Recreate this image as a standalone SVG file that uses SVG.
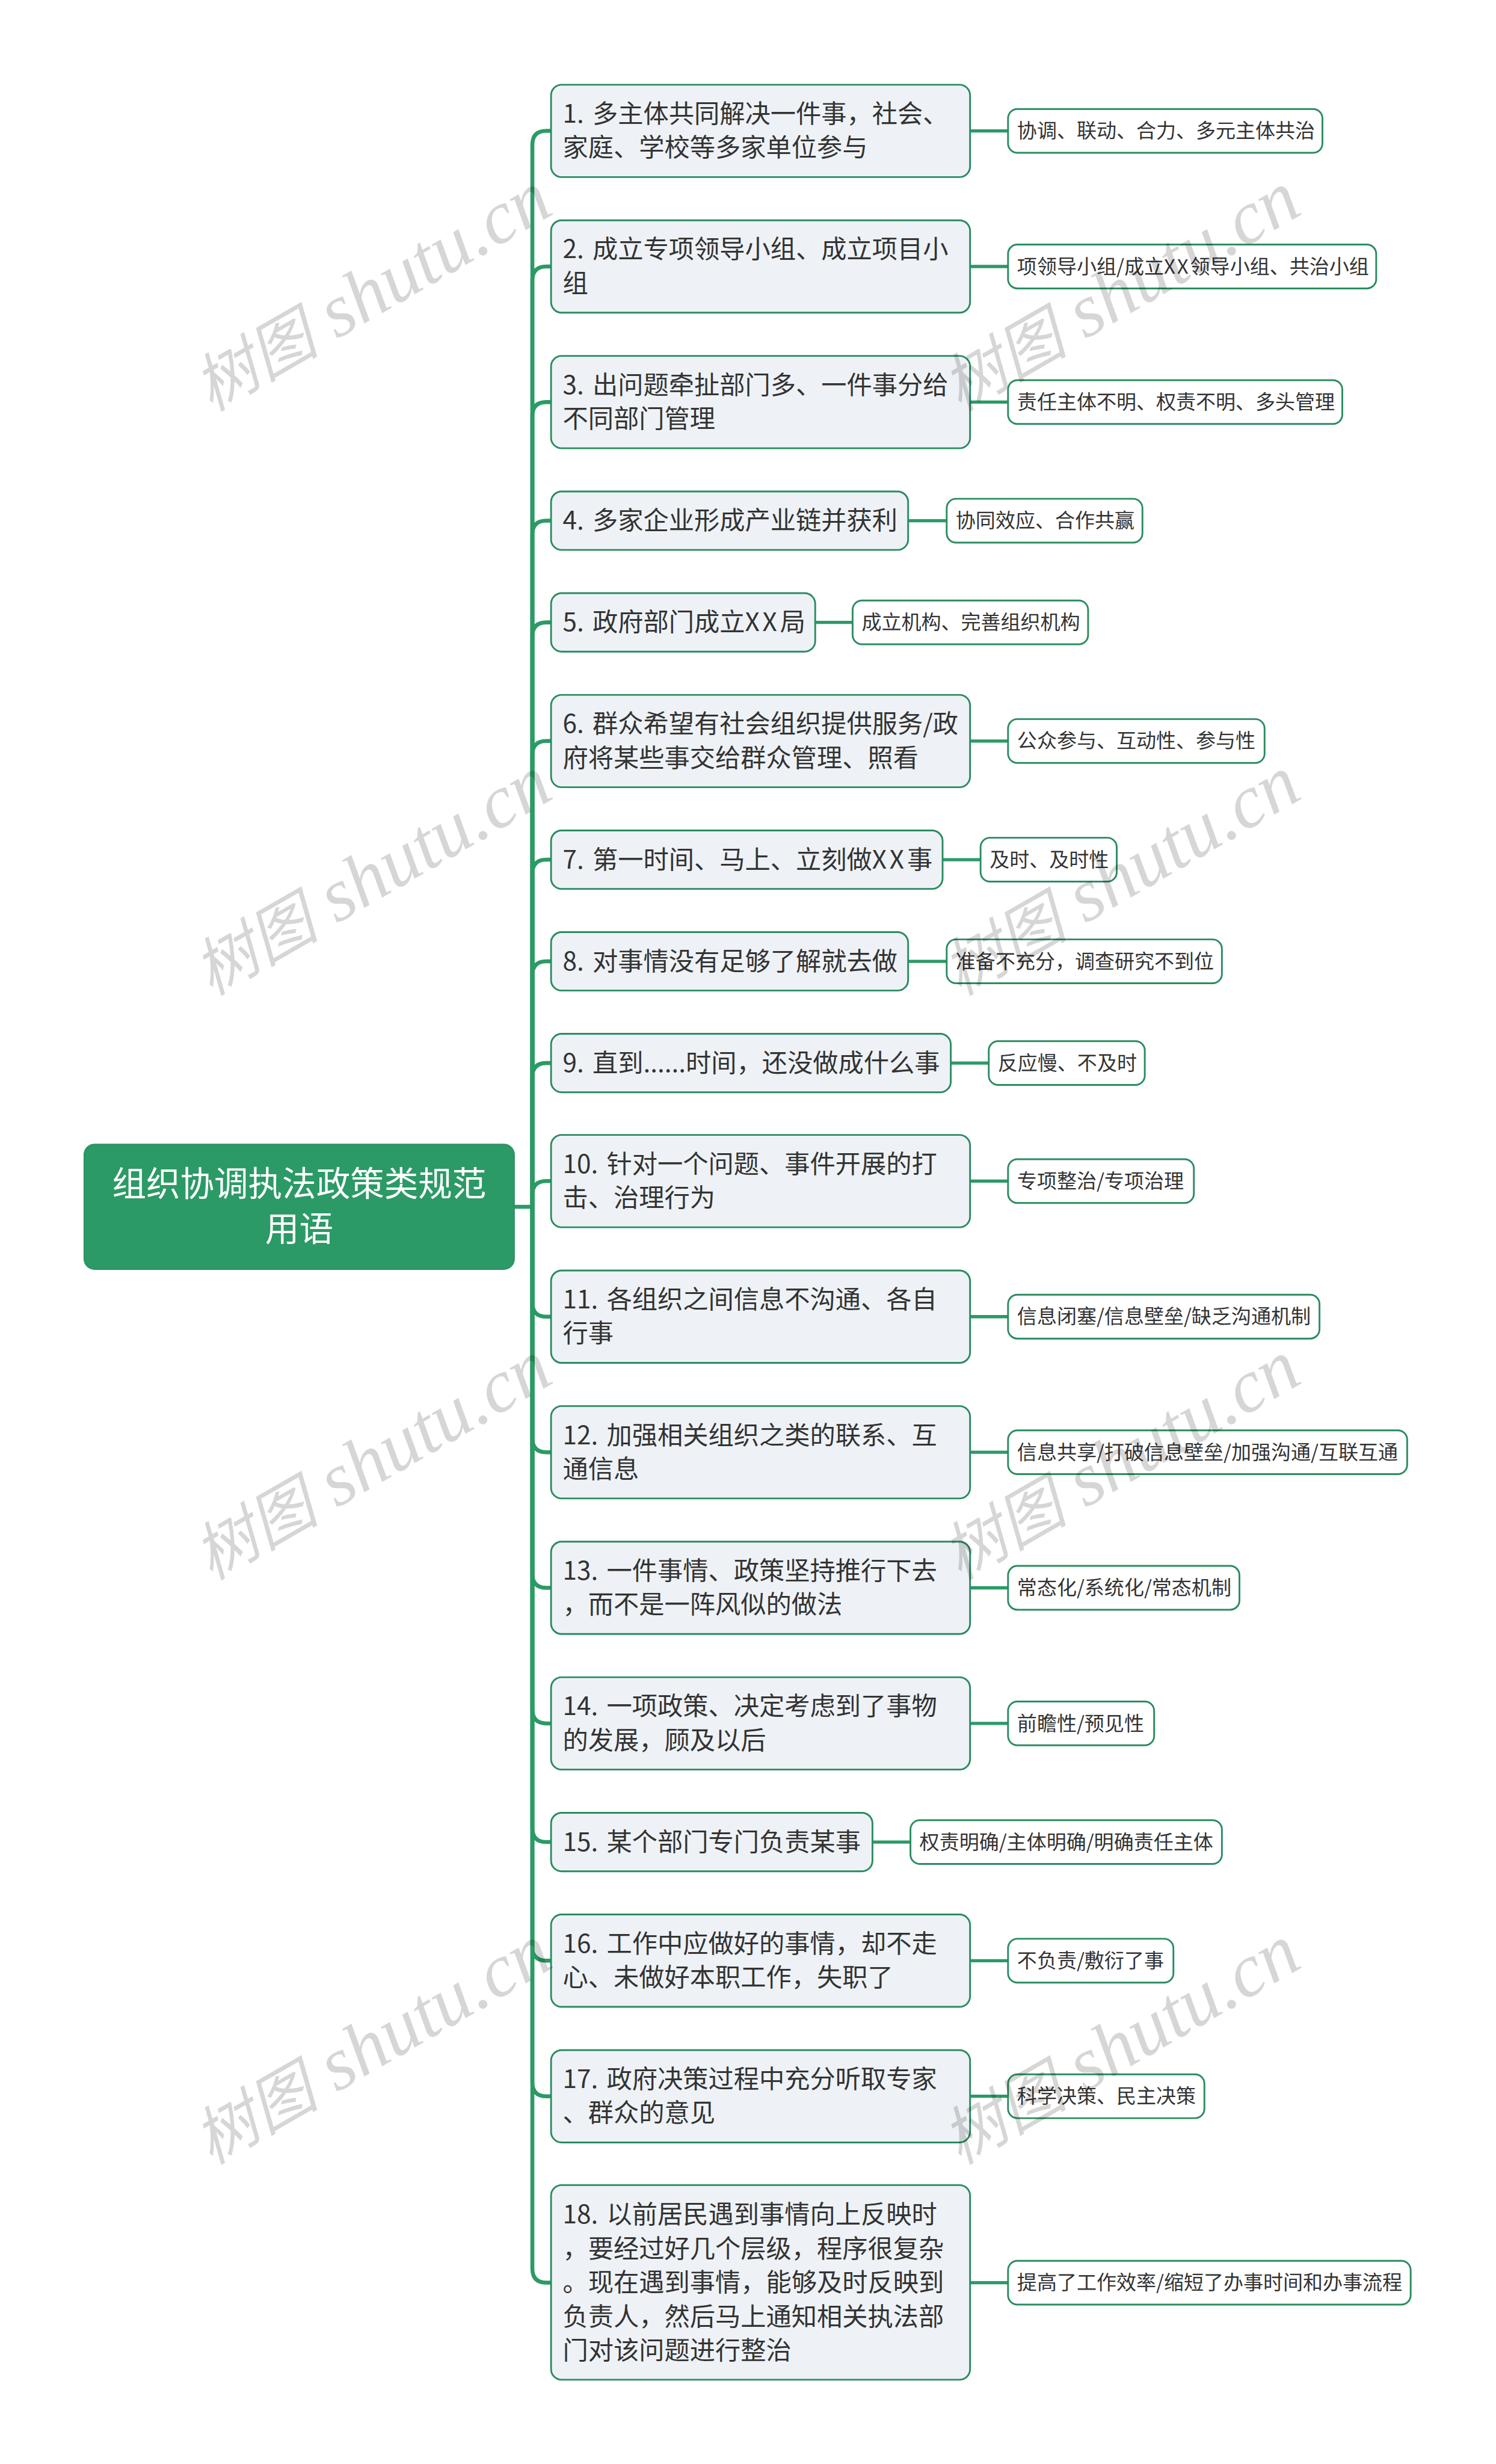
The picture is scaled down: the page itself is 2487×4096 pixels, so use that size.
<svg xmlns="http://www.w3.org/2000/svg" width="2487" height="4096" viewBox="0 0 2487 4096">
<style>
text{font-family:"Noto Sans CJK SC","Liberation Sans",sans-serif}
.c{fill:none;stroke:#2b9a66;stroke-width:6.7}
.s{fill:none;stroke:#2b9a66;stroke-width:5.5}
.n{fill:#eef2f6;stroke:#2a8c60;stroke-width:3}
.u{fill:#fff;stroke:#2a8c60;stroke-width:3}
.nt{font-size:43.5px;fill:#333;word-spacing:5px}
.ut{font-size:34px;fill:#333}
.rt{font-size:58.2px;fill:#fff;text-anchor:middle}
.w{font-family:"Liberation Serif","Noto Sans CJK SC",serif;font-style:italic;font-size:129px;fill:#000;fill-opacity:.16}
.wc{font-size:108px}
.xn{letter-spacing:5px}
.xu{letter-spacing:3px}
</style>
<defs><text id="wm" class="w"><tspan class="wc">树图</tspan> shutu.cn</text></defs>
<g transform="scale(0.97148)">
<rect width="2560" height="4217" fill="#fff"/>
<g id="connectors">
<path class="c" d="M880 2065H911"/>
<path class="c" d="M911 2065V248Q911 224 935 224H942"/>
<path class="c" d="M911 2065V480Q911 456 935 456H942"/>
<path class="c" d="M911 2065V712Q911 688 935 688H942"/>
<path class="c" d="M911 2065V915Q911 891 935 891H942"/>
<path class="c" d="M911 2065V1089Q911 1065 935 1065H942"/>
<path class="c" d="M911 2065V1292Q911 1268 935 1268H942"/>
<path class="c" d="M911 2065V1495Q911 1471 935 1471H942"/>
<path class="c" d="M911 2065V1669Q911 1645 935 1645H942"/>
<path class="c" d="M911 2065V1843Q911 1819 935 1819H942"/>
<path class="c" d="M911 2065V2045Q911 2021 935 2021H942"/>
<path class="c" d="M911 2065V2229Q911 2253 935 2253H942"/>
<path class="c" d="M911 2065V2461Q911 2485 935 2485H942"/>
<path class="c" d="M911 2065V2693Q911 2717 935 2717H942"/>
<path class="c" d="M911 2065V2925Q911 2949 935 2949H942"/>
<path class="c" d="M911 2065V3128Q911 3152 935 3152H942"/>
<path class="c" d="M911 2065V3331Q911 3355 935 3355H942"/>
<path class="c" d="M911 2065V3563Q911 3587 935 3587H942"/>
<path class="c" d="M911 2065V3882Q911 3906 935 3906H942"/>
<path class="s" d="M1661 224H1725"/>
<path class="s" d="M1661 456H1725"/>
<path class="s" d="M1661 688H1725"/>
<path class="s" d="M1555 891H1620"/>
<path class="s" d="M1396 1065H1459"/>
<path class="s" d="M1661 1268H1725"/>
<path class="s" d="M1614 1471H1678"/>
<path class="s" d="M1555 1645H1620"/>
<path class="s" d="M1628 1819H1692"/>
<path class="s" d="M1661 2021H1725"/>
<path class="s" d="M1661 2253H1725"/>
<path class="s" d="M1661 2485H1725"/>
<path class="s" d="M1661 2717H1725"/>
<path class="s" d="M1661 2949H1725"/>
<path class="s" d="M1494 3152H1558"/>
<path class="s" d="M1661 3355H1725"/>
<path class="s" d="M1661 3587H1725"/>
<path class="s" d="M1661 3906H1725"/>
</g>
<g id="root"><rect x="144" y="1958" width="736" height="214" rx="18" fill="#2c9a66" stroke="#2f8f65" stroke-width="2"/>
<text class="rt" x="512" y="2046">组织协调执法政策类规范</text><text class="rt" x="512" y="2124">用语</text></g>

<g id="n1"><rect class="n" x="943" y="145" width="717" height="158" rx="18"/><text class="nt" x="963" y="210">1. 多主体共同解决一件事，社会、</text><text class="nt" x="963" y="268">家庭、学校等多家单位参与</text></g>
<g id="s1"><rect class="u" x="1725" y="186.5" width="538" height="75" rx="16"/><text class="ut" x="1740.5" y="236">协调、联动、合力、多元主体共治</text></g>

<g id="n2"><rect class="n" x="943" y="377" width="717" height="158" rx="18"/><text class="nt" x="963" y="442">2. 成立专项领导小组、成立项目小</text><text class="nt" x="963" y="500">组</text></g>
<g id="s2"><rect class="u" x="1725" y="418.5" width="630" height="75" rx="16"/><text class="ut" x="1740.5" y="468">项领导小组/成立<tspan class="xu">XX</tspan>领导小组、共治小组</text></g>

<g id="n3"><rect class="n" x="943" y="609" width="717" height="158" rx="18"/><text class="nt" x="963" y="674">3. 出问题牵扯部门多、一件事分给</text><text class="nt" x="963" y="732">不同部门管理</text></g>
<g id="s3"><rect class="u" x="1725" y="650.5" width="572" height="75" rx="16"/><text class="ut" x="1740.5" y="700">责任主体不明、权责不明、多头管理</text></g>

<g id="n4"><rect class="n" x="943" y="841" width="611" height="100" rx="18"/><text class="nt" x="963" y="906">4. 多家企业形成产业链并获利</text></g>
<g id="s4"><rect class="u" x="1620" y="853.5" width="335" height="75" rx="16"/><text class="ut" x="1635.5" y="903">协同效应、合作共赢</text></g>

<g id="n5"><rect class="n" x="943" y="1015" width="452" height="100" rx="18"/><text class="nt" x="963" y="1080">5. 政府部门成立<tspan class="xn">XX</tspan>局</text></g>
<g id="s5"><rect class="u" x="1459" y="1027.5" width="403" height="75" rx="16"/><text class="ut" x="1474.5" y="1077">成立机构、完善组织机构</text></g>

<g id="n6"><rect class="n" x="943" y="1189" width="717" height="158" rx="18"/><text class="nt" x="963" y="1254">6. 群众希望有社会组织提供服务/政</text><text class="nt" x="963" y="1312">府将某些事交给群众管理、照看</text></g>
<g id="s6"><rect class="u" x="1725" y="1230.5" width="439" height="75" rx="16"/><text class="ut" x="1740.5" y="1280">公众参与、互动性、参与性</text></g>

<g id="n7"><rect class="n" x="943" y="1421" width="670" height="100" rx="18"/><text class="nt" x="963" y="1486">7. 第一时间、马上、立刻做<tspan class="xn">XX</tspan>事</text></g>
<g id="s7"><rect class="u" x="1678" y="1433.5" width="233" height="75" rx="16"/><text class="ut" x="1693.5" y="1483">及时、及时性</text></g>

<g id="n8"><rect class="n" x="943" y="1595" width="611" height="100" rx="18"/><text class="nt" x="963" y="1660">8. 对事情没有足够了解就去做</text></g>
<g id="s8"><rect class="u" x="1620" y="1607.5" width="471" height="75" rx="16"/><text class="ut" x="1635.5" y="1657">准备不充分，调查研究不到位</text></g>

<g id="n9"><rect class="n" x="943" y="1769" width="684" height="100" rx="18"/><text class="nt" x="963" y="1834">9. 直到......时间，还没做成什么事</text></g>
<g id="s9"><rect class="u" x="1692" y="1781.5" width="267" height="75" rx="16"/><text class="ut" x="1707.5" y="1831">反应慢、不及时</text></g>

<g id="n10"><rect class="n" x="943" y="1942" width="717" height="158" rx="18"/><text class="nt" x="963" y="2007">10. 针对一个问题、事件开展的打</text><text class="nt" x="963" y="2065">击、治理行为</text></g>
<g id="s10"><rect class="u" x="1725" y="1983.5" width="318" height="75" rx="16"/><text class="ut" x="1740.5" y="2033">专项整治/专项治理</text></g>

<g id="n11"><rect class="n" x="943" y="2174" width="717" height="158" rx="18"/><text class="nt" x="963" y="2239">11. 各组织之间信息不沟通、各自</text><text class="nt" x="963" y="2297">行事</text></g>
<g id="s11"><rect class="u" x="1725" y="2215.5" width="533" height="75" rx="16"/><text class="ut" x="1740.5" y="2265">信息闭塞/信息壁垒/缺乏沟通机制</text></g>

<g id="n12"><rect class="n" x="943" y="2406" width="717" height="158" rx="18"/><text class="nt" x="963" y="2471">12. 加强相关组织之类的联系、互</text><text class="nt" x="963" y="2529">通信息</text></g>
<g id="s12"><rect class="u" x="1725" y="2447.5" width="683" height="75" rx="16"/><text class="ut" x="1740.5" y="2497">信息共享/打破信息壁垒/加强沟通/互联互通</text></g>

<g id="n13"><rect class="n" x="943" y="2638" width="717" height="158" rx="18"/><text class="nt" x="963" y="2703">13. 一件事情、政策坚持推行下去</text><text class="nt" x="963" y="2761">，而不是一阵风似的做法</text></g>
<g id="s13"><rect class="u" x="1725" y="2679.5" width="396" height="75" rx="16"/><text class="ut" x="1740.5" y="2729">常态化/系统化/常态机制</text></g>

<g id="n14"><rect class="n" x="943" y="2870" width="717" height="158" rx="18"/><text class="nt" x="963" y="2935">14. 一项政策、决定考虑到了事物</text><text class="nt" x="963" y="2993">的发展，顾及以后</text></g>
<g id="s14"><rect class="u" x="1725" y="2911.5" width="250" height="75" rx="16"/><text class="ut" x="1740.5" y="2961">前瞻性/预见性</text></g>

<g id="n15"><rect class="n" x="943" y="3102" width="550" height="100" rx="18"/><text class="nt" x="963" y="3167">15. 某个部门专门负责某事</text></g>
<g id="s15"><rect class="u" x="1558" y="3114.5" width="533" height="75" rx="16"/><text class="ut" x="1573.5" y="3164">权责明确/主体明确/明确责任主体</text></g>

<g id="n16"><rect class="n" x="943" y="3276" width="717" height="158" rx="18"/><text class="nt" x="963" y="3341">16. 工作中应做好的事情，却不走</text><text class="nt" x="963" y="3399">心、未做好本职工作，失职了</text></g>
<g id="s16"><rect class="u" x="1725" y="3317.5" width="283" height="75" rx="16"/><text class="ut" x="1740.5" y="3367">不负责/敷衍了事</text></g>

<g id="n17"><rect class="n" x="943" y="3508" width="717" height="158" rx="18"/><text class="nt" x="963" y="3573">17. 政府决策过程中充分听取专家</text><text class="nt" x="963" y="3631">、群众的意见</text></g>
<g id="s17"><rect class="u" x="1725" y="3549.5" width="336" height="75" rx="16"/><text class="ut" x="1740.5" y="3599">科学决策、民主决策</text></g>

<g id="n18"><rect class="n" x="943" y="3739" width="717" height="333" rx="18"/><text class="nt" x="963" y="3805">18. 以前居民遇到事情向上反映时</text><text class="nt" x="963" y="3863">，要经过好几个层级，程序很复杂</text><text class="nt" x="963" y="3921">。现在遇到事情，能够及时反映到</text><text class="nt" x="963" y="3979">负责人，然后马上通知相关执法部</text><text class="nt" x="963" y="4037">门对该问题进行整治</text></g>
<g id="s18"><rect class="u" x="1725" y="3868.5" width="689" height="75" rx="16"/><text class="ut" x="1740.5" y="3918">提高了工作效率/缩短了办事时间和办事流程</text></g>

<g id="watermarks">
<use href="#wm" transform="translate(361 705) rotate(-30)"/>
<use href="#wm" transform="translate(1642 705) rotate(-30)"/>
<use href="#wm" transform="translate(361 1705) rotate(-30)"/>
<use href="#wm" transform="translate(1642 1705) rotate(-30)"/>
<use href="#wm" transform="translate(361 2705) rotate(-30)"/>
<use href="#wm" transform="translate(1642 2705) rotate(-30)"/>
<use href="#wm" transform="translate(361 3705) rotate(-30)"/>
<use href="#wm" transform="translate(1642 3705) rotate(-30)"/>
</g>
</g>
</svg>
